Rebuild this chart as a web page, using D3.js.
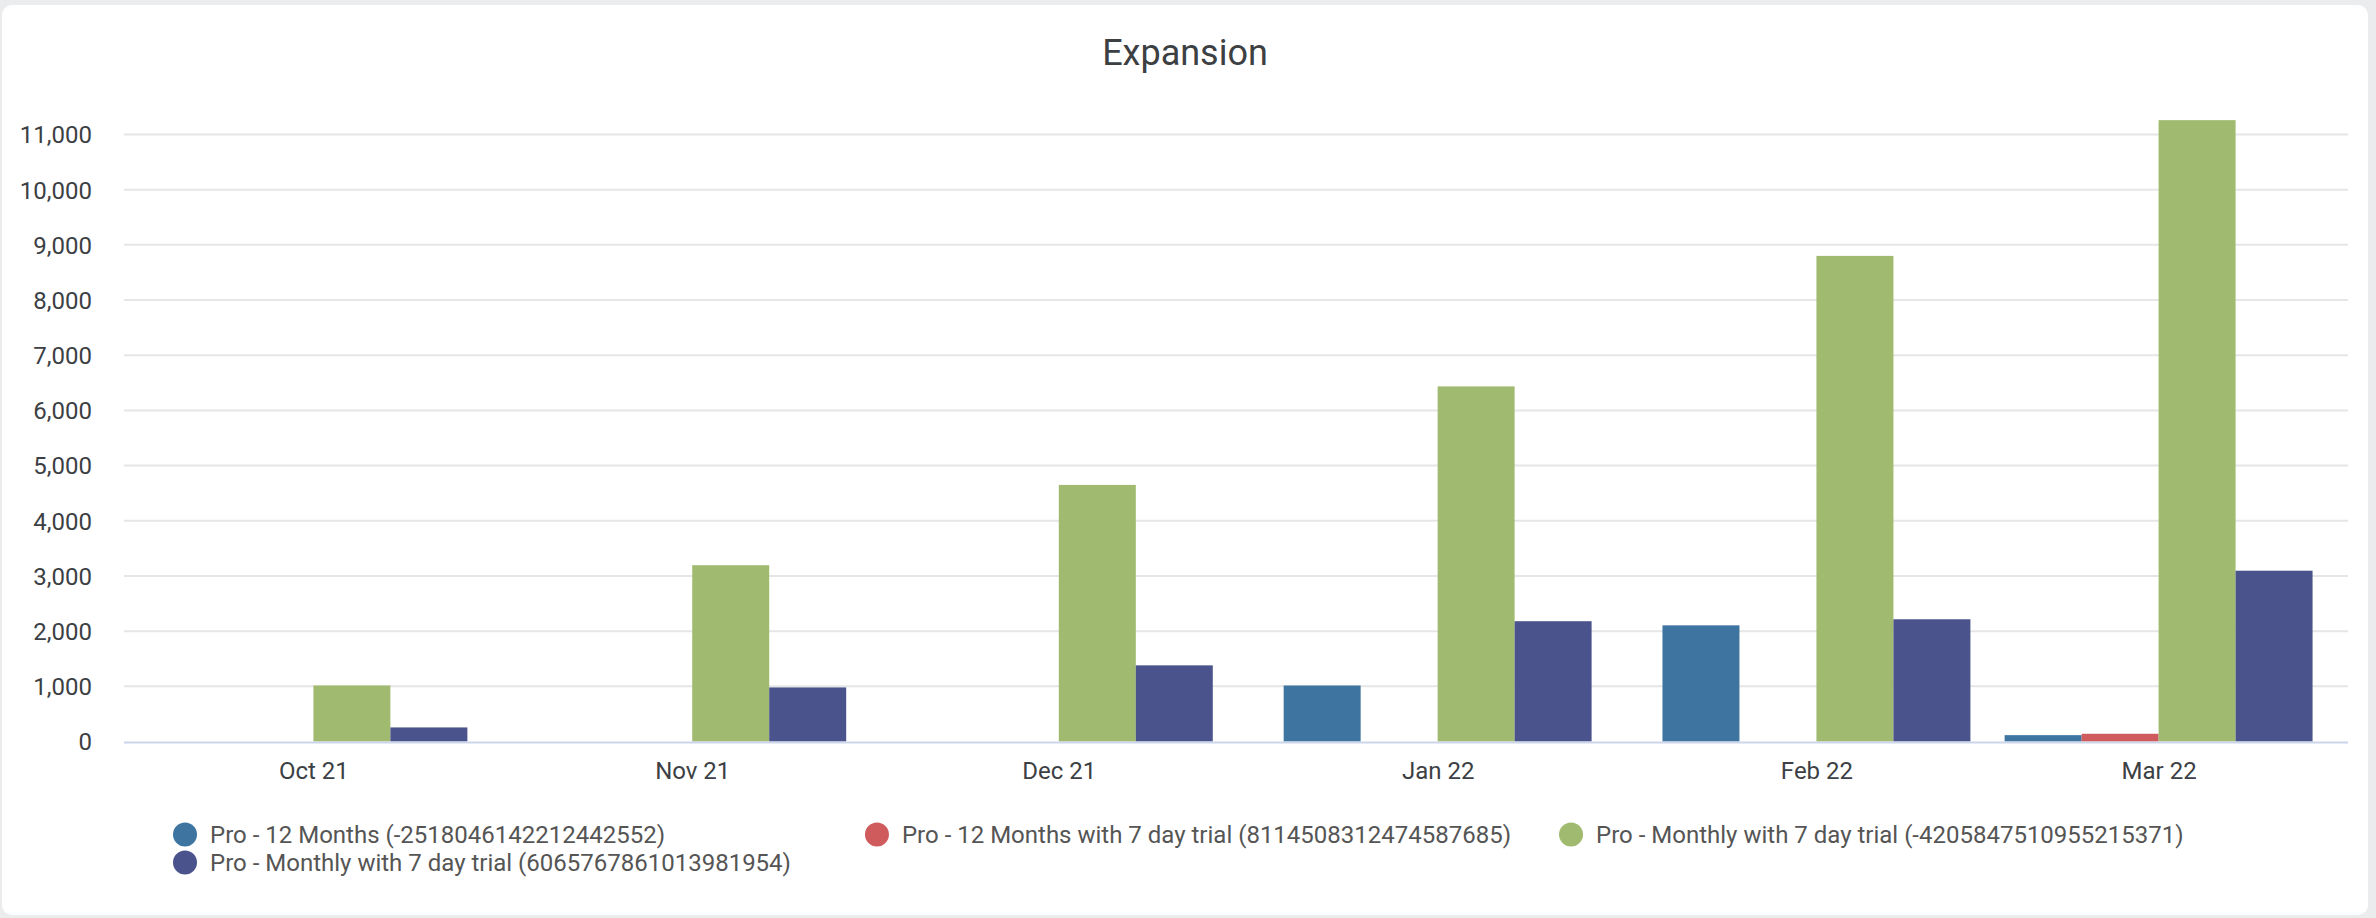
<!DOCTYPE html>
<html>
<head>
<meta charset="utf-8">
<script src="https://cdn.jsdelivr.net/npm/d3@7"></script>
<style>
  html, body { margin: 0; padding: 0; background: #ebecee; }
  svg { display: block; font-family: Roboto, "Noto Sans", sans-serif; }
</style>
</head>
<body>
<svg id="chart" width="2376" height="918"></svg>
<script>
const months = ["2021-10-01", "2021-11-01", "2021-12-01", "2022-01-01", "2022-02-01", "2022-03-01"];
const tickLabels = ["Oct 21", "Nov 21", "Dec 21", "Jan 22", "Feb 22", "Mar 22"];
const seriesNames = [
  "Pro - 12 Months (-2518046142212442552)",
  "Pro - 12 Months with 7 day trial (8114508312474587685)",
  "Pro - Monthly with 7 day trial (-4205847510955215371)",
  "Pro - Monthly with 7 day trial (6065767861013981954)"
];
const seriesColors = ["#3d74a0", "#d05b5c", "#a0ba6f", "#4a538b"];
const pro12Months      = [0, 0, 0, 1015, 2105, 115];
const pro12MonthsTrial = [0, 0, 0, 0, 0, 140];
const proMonthlyTrialA = [1015, 3195, 4650, 6435, 8800, 11260];
const proMonthlyTrialB = [255, 980, 1380, 2180, 2215, 3095];
const seriesValues = [pro12Months, pro12MonthsTrial, proMonthlyTrialA, proMonthlyTrialB];
const yTicks = [0, 1000, 2000, 3000, 4000, 5000, 6000, 7000, 8000, 9000, 10000, 11000];
const title = "Expansion";

const svg = d3.select("#chart");

// card
svg.append("rect").attr("x", 2).attr("y", 5).attr("width", 2366).attr("height", 910)
  .attr("rx", 10).attr("fill", "#ffffff");

// title
svg.append("text").attr("x", 1185).attr("y", 65).attr("text-anchor", "middle")
  .attr("font-size", 36).attr("fill", "#3c4043").text(title);

const parse = d3.utcParse("%Y-%m-%d");
const dates = months.map(parse);
const DAY = 864e5;
const edgePad = 15.5 * DAY;
const plotLeft = 124, plotRight = 2348;
const x = d3.scaleUtc()
  .domain([new Date(+dates[0] - edgePad), new Date(+dates[dates.length - 1] + edgePad)])
  .range([plotLeft, plotRight]);
const y = d3.scaleLinear().domain([0, 11000]).range([741.5, 134.5]);

// point range = closest distance between months
const minGap = d3.min(d3.pairs(dates), ([a, b]) => b - a);
const groupW = (x(new Date(+dates[0] + minGap)) - x(dates[0])) * 0.9;
const xs = d3.scaleBand().domain(d3.range(seriesValues.length))
  .range([-groupW / 2, groupW / 2]).padding(0);

// grid lines
svg.append("g").selectAll("line").data(yTicks.filter(d => d > 0)).join("line")
  .attr("x1", plotLeft).attr("x2", plotRight)
  .attr("y1", d => y(d)).attr("y2", d => y(d))
  .attr("stroke", "#e6e6e6").attr("stroke-width", 2);

// y axis labels
const yAxis = d3.axisLeft(y).tickValues(yTicks).tickSize(0).tickPadding(0)
  .tickFormat(d3.format(","));
const yG = svg.append("g").attr("transform", "translate(92,0)").call(yAxis);
yG.select(".domain").remove();
yG.selectAll("text").attr("font-size", 24).attr("fill", "#3c3f44")
  .attr("font-family", "Roboto, sans-serif").attr("dy", "0.35em").attr("x", 0);

// bars
const groups = svg.append("g").selectAll("g").data(dates).join("g")
  .attr("transform", d => `translate(${x(d)},0)`);
groups.selectAll("rect").data((c, i) => seriesValues.map((s, k) => ({ k, v: s[i] })))
  .join("rect")
  .attr("x", d => xs(d.k)).attr("width", xs.bandwidth())
  .attr("y", d => y(d.v)).attr("height", d => y(0) - y(d.v))
  .attr("fill", d => seriesColors[d.k]);

// x axis
const xAxis = d3.axisBottom(x).tickValues(dates).tickSize(0).tickPadding(0)
  .tickFormat((d, i) => tickLabels[i]);
const xG = svg.append("g").attr("transform", `translate(0,${y(0)})`).call(xAxis);
xG.select(".domain").remove();
xG.selectAll("text").attr("font-size", 24).attr("fill", "#3c3f44")
  .attr("font-family", "Roboto, sans-serif").attr("dy", 0).attr("y", 37.5);
svg.append("line").attr("x1", plotLeft).attr("x2", plotRight)
  .attr("y1", y(0) + 1).attr("y2", y(0) + 1).attr("stroke", "#ccd6eb").attr("stroke-width", 2);

// legend
const legend = svg.append("g");
const nCols = 3, symR = 12, textOff = 37;
const colGaps = [74, 48];
const rowBaselines = [843, 871];
const items = legend.selectAll("g").data(seriesNames).join("g");
items.append("text").attr("font-size", 24).attr("fill", "#555555")
  .attr("font-family", "Roboto, sans-serif").text(d => d);
const widths = [];
items.select("text").each(function () { widths.push(this.getComputedTextLength()); });
const colW = d3.range(nCols).map(c =>
  d3.max(seriesNames.map((n, i) => (i % nCols === c ? textOff + widths[i] : 0))));
const startX = 173;
const colX = colW.map((w, c) => startX + d3.sum(colW.slice(0, c)) + d3.sum(colGaps.slice(0, c)));
items.attr("transform", (d, i) => `translate(${colX[i % nCols]},${rowBaselines[Math.floor(i / nCols)]})`);
items.select("text").attr("x", textOff).attr("y", 0);
items.append("circle").attr("cx", symR).attr("cy", -8.5).attr("r", symR)
  .attr("fill", (d, i) => seriesColors[i]);
</script>
</body>
</html>
